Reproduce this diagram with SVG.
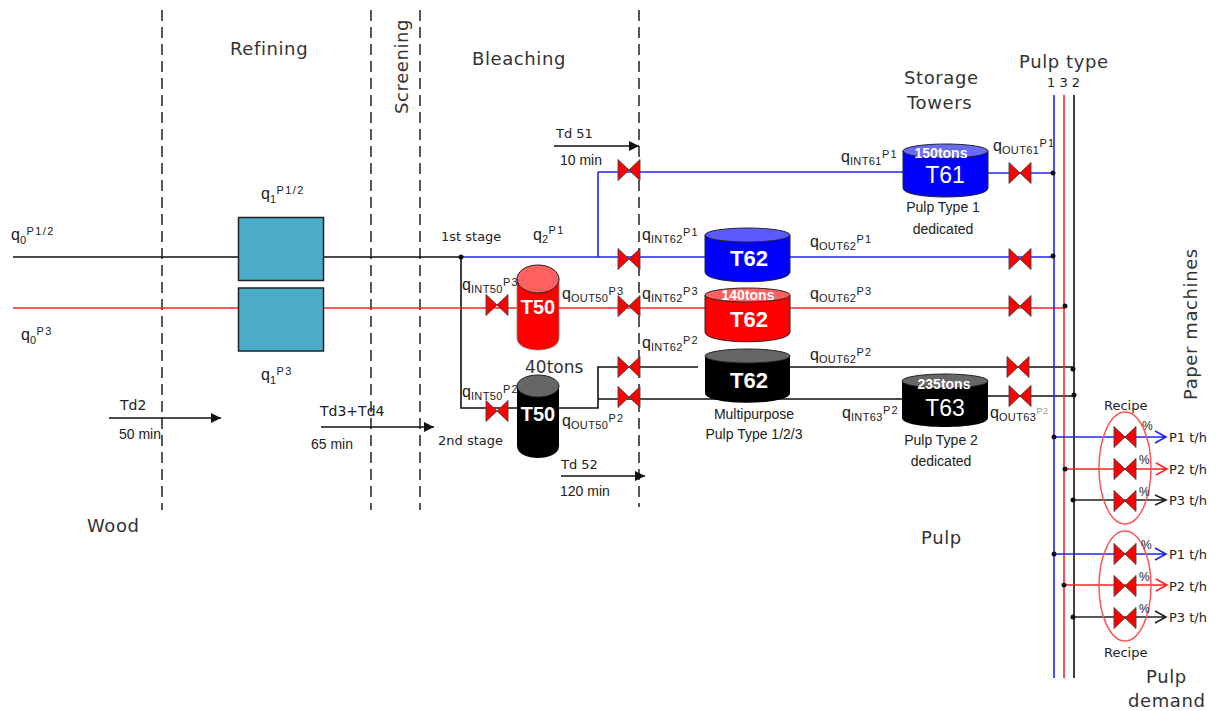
<svg xmlns="http://www.w3.org/2000/svg" width="1216" height="711" viewBox="0 0 1216 711">
<style>
text{font-family:"Liberation Sans",Arial,sans-serif;fill:#222;font-size:14px}
.h{font-family:"DejaVu Sans",Verdana,sans-serif;font-size:18px;fill:#333;letter-spacing:.6px}
.s{font-family:"DejaVu Sans",Verdana,sans-serif;font-size:13px;fill:#222}
.q{font-size:16px}
.q .b{font-size:11px;letter-spacing:.4px}
.q .p{font-size:11px;letter-spacing:1.400px}
.w{fill:#fff;font-weight:bold;text-anchor:middle}
.c{text-anchor:middle}
.l{fill:none;stroke-width:1.6}
.k{stroke:#111}.r{stroke:#f22}.u{stroke:#22f}
.d{stroke:#222;stroke-width:1.5;stroke-dasharray:11 6;fill:none}
.t{stroke:#111;stroke-width:1.3;fill:none}
.e{fill:none;stroke:#f55;stroke-width:1.5}
</style>
<defs>
<marker id="ah" markerWidth="12" markerHeight="12" refX="10" refY="5" orient="auto" markerUnits="userSpaceOnUse"><path d="M0 0L10 5L0 10Z" fill="#111"/></marker>
<g id="valve"><path d="M-11 -10.500L0 0L-11 10.500ZM11 -10.500L0 0L11 10.500Z" fill="#f00" stroke="#444" stroke-width=".9"/></g>
<circle id="dot" r="2.500" fill="#111"/>
</defs>

<g id="connectors">
<path class="d" d="M162 10V510M371 10V510M420 10V510M639 10V507"/>
<path class="l k" d="M13 257H461V408H517M559 408H598V367H698M598 408V399H902M790 367H1073M988 396H1073"/>
<path class="l r" d="M13 308H1065"/>
<path class="l u" d="M461 257H1053M598 257V172M598 172H903M988 173H1053"/>
<path class="l u" d="M1054 95V678"/><path class="l r" d="M1064 95V678"/><path class="l k" d="M1074 95V678"/>
<path class="l u" d="M1054 437H1166M1155 431L1166 437L1155 443M1054 554H1166M1155 548L1166 554L1155 560"/>
<path class="l r" d="M1065 469H1167M1156 463L1167 469L1156 475M1064 585H1167M1156 579L1167 585L1156 591"/>
<path class="l" stroke="#222" d="M1073 500H1166M1155 495L1166 500L1155 505M1073 617H1166M1155 611L1166 617L1155 623"/>
<path class="t" marker-end="url(#ah)" d="M554 146H639"/>
<path class="t" marker-end="url(#ah)" d="M109 418H221"/>
<path class="t" marker-end="url(#ah)" d="M321 427H434"/>
<path class="t" marker-end="url(#ah)" d="M561 476H645"/>
<use href="#dot" x="461" y="257"/><use href="#dot" x="1053" y="173"/><use href="#dot" x="1053" y="256"/><use href="#dot" x="1065" y="306"/><use href="#dot" x="1073" y="369"/><use href="#dot" x="1074" y="395"/><use href="#dot" x="1054" y="437"/><use href="#dot" x="1065" y="469"/><use href="#dot" x="1073" y="500"/><use href="#dot" x="1054" y="554"/><use href="#dot" x="1064" y="585"/><use href="#dot" x="1073" y="617"/>
</g>

<g id="refiner-top"><rect x="238.500" y="217.500" width="85" height="63" fill="#4bacc9" stroke="#222" stroke-width="1.500"/></g>
<g id="refiner-bottom"><rect x="238.500" y="288" width="85" height="63" fill="#4bacc9" stroke="#222" stroke-width="1.500"/></g>

<g id="T50-red"><path d="M517 279V338C517 354 559 354 559 338V279Z" fill="#f00" stroke="#888" stroke-width=".8"/><ellipse cx="538" cy="279" rx="21" ry="14" fill="#ff6060" stroke="#222"/><text class="w" x="538" y="314" style="font-size:20px">T50</text></g>
<g id="T50-black"><path d="M517 388V446C517 462 559 462 559 446V388Z" fill="#000"/><ellipse cx="538" cy="386" rx="21" ry="11" fill="#666" stroke="#222"/><text class="w" x="538" y="421" style="font-size:20px">T50</text></g>

<g id="T62-blue"><path d="M705 235V272C705 285 790 285 790 272V235Z" fill="#00f" stroke="#223"/><ellipse cx="747.500" cy="235" rx="42.500" ry="7" fill="#5a5aff" stroke="#223"/><text class="w" x="749" y="266" style="font-size:22px">T62</text></g>
<g id="T62-red"><path d="M705 295V332C705 345 790 345 790 332V295Z" fill="#f00" stroke="#322"/><ellipse cx="747.500" cy="295" rx="42.500" ry="7" fill="#ff6060" stroke="#322"/><text class="w" x="748" y="300" style="font-size:14px">140tons</text><text class="w" x="749" y="327" style="font-size:22px">T62</text></g>
<g id="T62-black"><path d="M705 356V393C705 406 790 406 790 393V356Z" fill="#000"/><ellipse cx="747.500" cy="356" rx="42.500" ry="7" fill="#666" stroke="#222"/><text class="w" x="749" y="388" style="font-size:22px">T62</text></g>
<g id="T61"><path d="M903 151V188C903 200 988 200 988 188V151Z" fill="#00f" stroke="#223"/><ellipse cx="945.500" cy="151" rx="42.500" ry="7" fill="#6a6aff" stroke="#223"/><text class="w" x="941" y="158" style="font-size:14px">150tons</text><text class="w" x="945" y="183" style="font-size:23px;font-weight:normal">T61</text></g>
<g id="T63"><path d="M902 381V418C902 430 988 430 988 418V381Z" fill="#000"/><ellipse cx="945" cy="381" rx="43" ry="7" fill="#666" stroke="#222"/><text class="w" x="944" y="389" style="font-size:14px">235tons</text><text class="w" x="945" y="416" style="font-size:23px;font-weight:normal">T63</text></g>

<g id="valves">
<use href="#valve" x="629" y="170"/><use href="#valve" x="629" y="259"/><use href="#valve" x="629" y="306"/><use href="#valve" x="497" y="305"/><use href="#valve" x="497" y="411"/><use href="#valve" x="629" y="367"/><use href="#valve" x="629" y="397"/><use href="#valve" x="1020" y="173"/><use href="#valve" x="1020" y="259"/><use href="#valve" x="1020" y="306"/><use href="#valve" x="1018" y="367"/><use href="#valve" x="1020" y="396"/>
<use href="#valve" x="1125" y="437"/><use href="#valve" x="1125" y="469"/><use href="#valve" x="1125" y="501"/><use href="#valve" x="1125" y="554"/><use href="#valve" x="1125" y="586"/><use href="#valve" x="1125" y="618"/>
</g>
<g id="recipe-1"><ellipse class="e" cx="1125" cy="468" rx="26" ry="56"/></g>
<g id="recipe-2"><ellipse class="e" cx="1125" cy="586" rx="26" ry="55"/></g>

<g id="labels">
<text class="h" x="230" y="55">Refining</text>
<text class="h" x="472" y="65">Bleaching</text>
<text class="h" transform="translate(408,114) rotate(-90)">Screening</text>
<text class="h" x="904" y="84">Storage</text>
<text class="h" x="907" y="109">Towers</text>
<text class="h" x="1019" y="68">Pulp type</text>
<text class="s" x="1047" y="87">1 3 2</text>
<text class="h" transform="translate(1197,400) rotate(-90)">Paper machines</text>
<text class="h" x="87" y="532">Wood</text>
<text class="h" x="921" y="544">Pulp</text>
<text class="h" x="1146" y="683">Pulp</text>
<text class="h" x="1128" y="707">demand</text>
<text class="s" x="441" y="241">1st stage</text>
<text class="s" x="438" y="445">2nd stage</text>
<text class="h" style="font-size:17px;letter-spacing:0" x="525" y="373">40tons</text>
<text class="s" x="1104" y="410">Recipe</text>
<text class="s" x="1104" y="657">Recipe</text>
<text class="s" x="120" y="410" style="font-size:14px">Td2</text>
<text x="119" y="439">50 min</text>
<text class="s" x="320" y="416" style="font-size:14px">Td3+Td4</text>
<text x="311" y="449">65 min</text>
<text class="s" x="556" y="138">Td 51</text>
<text x="560" y="165">10 min</text>
<text class="s" x="561" y="469">Td 52</text>
<text x="560" y="496">120 min</text>
<text class="c" x="754" y="419">Multipurpose</text>
<text class="c" x="754" y="439">Pulp Type 1/2/3</text>
<text class="c" x="943" y="212">Pulp Type 1</text>
<text class="c" x="943" y="234">dedicated</text>
<text class="c" x="941" y="445">Pulp Type 2</text>
<text class="c" x="941" y="466">dedicated</text>

<text class="q" x="11" y="240">q<tspan class="b" dy="4">0</tspan><tspan class="p" dy="-9">P1/2</tspan></text>
<text class="q" x="21" y="340">q<tspan class="b" dy="4">0</tspan><tspan class="p" dy="-9">P3</tspan></text>
<text class="q" x="261" y="199">q<tspan class="b" dy="4">1</tspan><tspan class="p" dy="-9">P1/2</tspan></text>
<text class="q" x="261" y="380">q<tspan class="b" dy="4">1</tspan><tspan class="p" dy="-9">P3</tspan></text>
<text class="q" x="533" y="240">q<tspan class="b" dy="3">2</tspan><tspan class="p" dy="-9">P1</tspan></text>
<text class="q" x="462" y="290">q<tspan class="b" dy="3">INT50</tspan><tspan class="p" dy="-7">P3</tspan></text>
<text class="q" x="462" y="397">q<tspan class="b" dy="3">INT50</tspan><tspan class="p" dy="-7">P2</tspan></text>
<text class="q" x="562" y="299">q<tspan class="b" dy="3">OUT50</tspan><tspan class="p" dy="-7">P3</tspan></text>
<text class="q" x="562" y="426">q<tspan class="b" dy="3">OUT50</tspan><tspan class="p" dy="-7">P2</tspan></text>
<text class="q" x="642" y="240">q<tspan class="b" dy="3">INT62</tspan><tspan class="p" dy="-7">P1</tspan></text>
<text class="q" x="642" y="299">q<tspan class="b" dy="3">INT62</tspan><tspan class="p" dy="-7">P3</tspan></text>
<text class="q" x="642" y="348">q<tspan class="b" dy="3">INT62</tspan><tspan class="p" dy="-7">P2</tspan></text>
<text class="q" x="810" y="247">q<tspan class="b" dy="3">OUT62</tspan><tspan class="p" dy="-7">P1</tspan></text>
<text class="q" x="810" y="299">q<tspan class="b" dy="3">OUT62</tspan><tspan class="p" dy="-7">P3</tspan></text>
<text class="q" x="810" y="360">q<tspan class="b" dy="3">OUT62</tspan><tspan class="p" dy="-7">P2</tspan></text>
<text class="q" x="841" y="162">q<tspan class="b" dy="3">INT61</tspan><tspan class="p" dy="-7">P1</tspan></text>
<text class="q" x="993" y="151">q<tspan class="b" dy="3">OUT61</tspan><tspan class="p" dy="-7">P1</tspan></text>
<text class="q" x="842" y="418">q<tspan class="b" dy="3">INT63</tspan><tspan class="p" dy="-7">P2</tspan></text>
<text class="q" x="990" y="418">q<tspan class="b" dy="3">OUT63</tspan><tspan class="p" dy="-7" style="fill:#999;font-size:9px;letter-spacing:.5px">P2</tspan></text>

<text x="1142" y="430" style="font-size:12px">%</text><text x="1139" y="464" style="font-size:12px">%</text><text x="1139" y="496" style="font-size:12px">%</text>
<text x="1141" y="549" style="font-size:12px">%</text><text x="1139" y="581" style="font-size:12px">%</text><text x="1139" y="613" style="font-size:12px">%</text>
<text class="s" x="1169" y="442">P1 t/h</text><text class="s" x="1169" y="474">P2 t/h</text><text class="s" x="1169" y="505">P3 t/h</text>
<text class="s" x="1169" y="559">P1 t/h</text><text class="s" x="1169" y="591">P2 t/h</text><text class="s" x="1169" y="622">P3 t/h</text>
</g>
</svg>
